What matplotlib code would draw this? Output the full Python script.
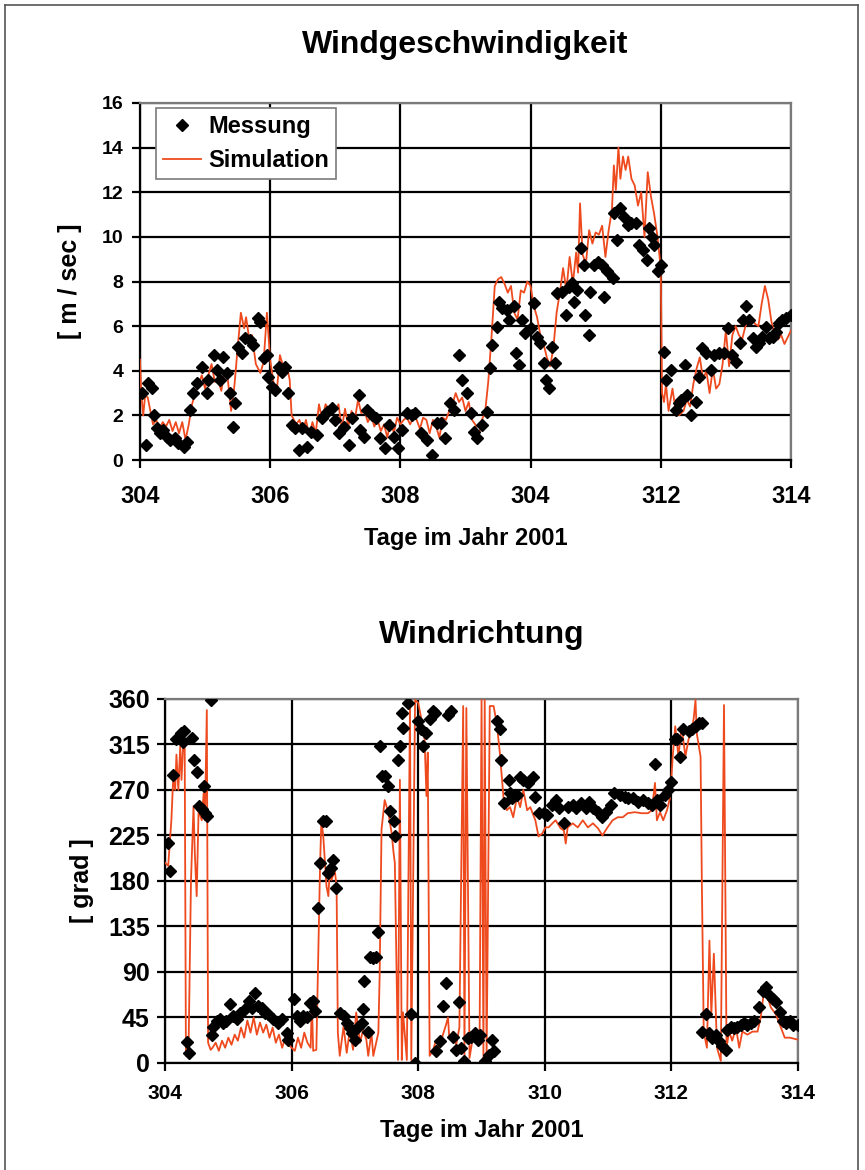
import numpy as np
import matplotlib
matplotlib.use("Agg")
import matplotlib.pyplot as plt
from matplotlib.lines import Line2D

plt.rcParams['font.family'] = ['Liberation Sans', 'DejaVu Sans']
plt.rcParams['font.weight'] = 'bold'
plt.rcParams['axes.labelweight'] = 'bold'
plt.rcParams['axes.titleweight'] = 'bold'

RED = '#ee4a1e'

# --- Windgeschwindigkeit: Messung (day, m/s) ---
ws_mess_day = [304.03, 304.10, 304.13, 304.18, 304.21, 304.26, 304.31, 304.36, 304.41, 304.46,
               304.54, 304.59, 304.67, 304.72, 304.77, 304.82, 304.87, 304.95, 305.03, 305.05,
               305.13, 305.18, 305.23, 305.28, 305.33, 305.38, 305.43, 305.46, 305.51, 305.56,
               305.62, 305.69, 305.74, 305.82, 305.85, 305.90, 305.95, 305.97, 306.03, 306.08,
               306.13, 306.18, 306.23, 306.28, 306.33, 306.38, 306.44, 306.49, 306.56, 306.62,
               306.72, 306.79, 306.87, 306.95, 307.00, 307.05, 307.13, 307.21, 307.26, 307.36,
               307.38, 307.44, 307.49, 307.56, 307.62, 307.69, 307.77, 307.82, 307.90, 307.97,
               308.03, 308.10, 308.18, 308.23, 308.31, 308.41, 308.49, 308.56, 308.62, 308.69,
               308.77, 308.82, 308.90, 308.95, 309.03, 309.08, 309.13, 309.18, 309.26, 309.33,
               309.38, 309.41, 309.49, 309.51, 309.56, 309.64, 309.67, 309.74, 309.77, 309.82,
               309.87, 309.92, 310.00, 310.05, 310.10, 310.15, 310.21, 310.23, 310.28, 310.33,
               310.38, 310.41, 310.49, 310.54, 310.59, 310.64, 310.67, 310.72, 310.77, 310.82,
               310.83, 310.90, 310.92, 310.97, 311.03, 311.10, 311.13, 311.18, 311.26, 311.28,
               311.33, 311.38, 311.44, 311.49, 311.54, 311.62, 311.67, 311.72, 311.79, 311.82,
               311.87, 311.90, 311.95, 312.00, 312.05, 312.08, 312.15, 312.23, 312.28, 312.31,
               312.38, 312.41, 312.46, 312.54, 312.59, 312.64, 312.69, 312.77, 312.82, 312.90,
               312.97, 313.03, 313.10, 313.15, 313.21, 313.26, 313.31, 313.36, 313.41, 313.46,
               313.51, 313.56, 313.62, 313.67, 313.72, 313.77, 313.82, 313.87, 313.92, 314.00]
ws_mess_val = [2.99, 0.67, 3.44, 3.21, 2.02, 1.42, 1.20, 1.35, 1.05, 0.90,
               0.97, 0.75, 0.60, 0.82, 2.24, 2.99, 3.44, 4.19, 2.99, 3.59,
               4.71, 4.04, 3.59, 4.63, 3.89, 2.99, 1.49, 2.54, 5.08, 4.78,
               5.46, 5.38, 5.16, 6.35, 6.20, 4.56, 4.71, 3.74, 3.29, 3.14,
               4.19, 3.96, 4.19, 2.99, 1.57, 1.42, 0.45, 1.42, 0.60, 1.27,
               1.12, 1.87, 2.17, 2.32, 1.79, 1.20, 1.49, 0.67, 1.87, 2.91,
               1.35, 1.05, 2.24, 2.02, 1.87, 0.97, 0.52, 1.57, 1.05, 0.52,
               1.35, 2.09, 2.02, 2.09, 1.20, 0.90, 0.22, 1.64, 1.64, 0.97,
               2.54, 2.24, 4.71, 3.59, 2.99, 2.09, 1.27, 0.97, 1.57, 2.17,
               4.11, 5.16, 5.98, 7.10, 6.80, 6.73, 6.28, 6.88, 4.78, 4.26,
               6.28, 5.68, 5.90, 7.03, 5.53, 5.23, 4.33, 3.59, 3.21, 5.08,
               4.33, 7.47, 7.55, 6.50, 7.77, 7.92, 7.10, 7.62, 9.49, 8.74,
               6.50, 5.61, 7.55, 8.74, 8.89, 8.74, 7.32, 8.45, 8.15, 11.06,
               9.87, 11.29, 10.91, 10.54, 10.61, 10.61, 9.64, 9.42, 8.97, 10.39,
               10.01, 9.64, 8.45, 8.74, 4.86, 3.59, 4.04, 2.24, 2.54, 2.69,
               4.26, 2.91, 2.02, 2.62, 3.74, 5.01, 4.78, 4.04, 4.71, 4.78,
               4.78, 5.90, 4.71, 4.41, 5.23, 6.28, 6.88, 6.28, 5.46, 5.08,
               5.23, 5.53, 5.98, 5.46, 5.53, 5.75, 6.13, 6.28, 6.35, 6.50]

# --- Windgeschwindigkeit: Simulation ---
ws_sim_day = [304.00, 304.02, 304.05, 304.08, 304.12, 304.16, 304.20, 304.25, 304.30, 304.35,
              304.40, 304.45, 304.50, 304.55, 304.60, 304.65, 304.70, 304.75, 304.80, 304.85,
              304.90, 304.95, 305.00, 305.05, 305.10, 305.15, 305.20, 305.25, 305.30, 305.35,
              305.40, 305.45, 305.50, 305.55, 305.60, 305.63, 305.68, 305.72, 305.78, 305.85,
              305.90, 305.95, 306.00, 306.05, 306.10, 306.15, 306.20, 306.25, 306.30, 306.33,
              306.40, 306.45, 306.50, 306.55, 306.60, 306.65, 306.70, 306.75, 306.80, 306.85,
              306.90, 306.95, 307.00, 307.05, 307.10, 307.15, 307.20, 307.25, 307.30, 307.35,
              307.40, 307.45, 307.50, 307.55, 307.60, 307.65, 307.70, 307.75, 307.80, 307.85,
              307.90, 307.95, 308.00, 308.05, 308.10, 308.15, 308.20, 308.25, 308.30, 308.35,
              308.40, 308.45, 308.50, 308.55, 308.60, 308.65, 308.70, 308.75, 308.80, 308.85,
              308.90, 308.95, 309.00, 309.05, 309.10, 309.15, 309.20, 309.25, 309.30, 309.35,
              309.40, 309.45, 309.50, 309.55, 309.60, 309.65, 309.70, 309.75, 309.80, 309.85,
              309.90, 309.95, 310.00, 310.05, 310.10, 310.15, 310.20, 310.25, 310.30, 310.35,
              310.40, 310.45, 310.50, 310.55, 310.60, 310.65, 310.70, 310.73, 310.76, 310.80,
              310.85, 310.90, 310.95, 311.00, 311.05, 311.10, 311.15, 311.20, 311.25, 311.28,
              311.31, 311.35, 311.38, 311.42, 311.46, 311.50, 311.55, 311.60, 311.65, 311.70,
              311.75, 311.80, 311.85, 311.90, 311.95, 312.00, 312.02, 312.05, 312.08, 312.12,
              312.18, 312.22, 312.28, 312.35, 312.40, 312.45, 312.50, 312.55, 312.60, 312.65,
              312.70, 312.75, 312.80, 312.85, 312.90, 312.95, 313.00, 313.05, 313.10, 313.15,
              313.20, 313.25, 313.30, 313.35, 313.40, 313.45, 313.50, 313.55, 313.60, 313.65,
              313.70, 313.75, 313.80, 313.85, 313.90, 313.95, 314.00]
ws_sim_val = [4.5, 3.0, 2.0, 2.9, 2.8, 2.2, 1.6, 1.8, 1.4, 1.7,
              1.5, 1.8, 1.3, 1.7, 1.2, 1.7, 0.9, 1.6, 2.5, 3.0,
              3.4, 3.8, 3.2, 3.8, 4.3, 3.5, 3.6, 3.1, 4.0, 3.6,
              2.2, 3.3, 5.0, 6.6, 5.9, 6.4, 5.4, 5.6, 4.3, 3.9,
              4.4, 6.6, 4.5, 3.5, 3.0, 4.7, 4.2, 4.3, 3.6, 2.0,
              1.6, 1.8, 1.3, 1.8, 1.1, 1.7, 1.2, 2.5, 1.8, 2.5,
              2.3, 2.5, 2.2, 2.5, 1.4, 2.3, 1.5, 2.2, 1.8, 2.7,
              2.1, 2.2, 1.7, 2.0, 1.5, 1.8, 1.3, 1.6, 1.0, 1.8,
              1.2, 1.9, 1.6, 1.8, 1.9, 1.6, 1.9, 1.8, 1.4, 1.9,
              1.8, 1.2, 1.8, 1.5, 1.0, 1.9, 1.8, 2.2, 2.5, 3.0,
              2.6, 2.8, 2.2, 2.6, 1.8, 1.6, 1.0, 1.8, 2.1, 3.5,
              5.5, 7.8, 8.1, 8.2, 7.9, 7.5, 7.8, 6.6, 6.3, 7.6,
              7.5, 8.0, 7.8, 6.9, 6.4, 5.6, 5.2, 4.6, 4.2, 5.0,
              6.6, 7.5, 8.6, 7.6, 9.1, 7.9, 9.3, 8.4, 11.5, 9.2,
              8.8, 10.3, 9.7, 10.2, 10.1, 10.5, 9.1, 10.3, 11.2, 13.2,
              12.1, 14.0, 12.6, 13.6, 13.0, 13.6, 12.6, 12.3, 11.4, 12.0,
              10.0, 12.9, 11.8, 11.0, 10.0, 8.6, 3.0, 2.6, 3.4, 2.2,
              3.2, 2.4, 2.0, 2.2, 2.7, 2.4, 3.4, 4.1, 4.6, 3.6,
              4.0, 3.0, 4.1, 3.2, 3.4, 4.3, 5.8, 4.2, 5.6, 6.0,
              5.6, 5.4, 6.0, 6.2, 6.3, 6.1, 6.0, 7.0, 7.8, 7.2,
              6.2, 5.6, 5.4, 5.6, 5.2, 5.5, 5.8]

# --- Windrichtung: Messung (day, grad) ---
wd_mess_day = [304.04, 304.08, 304.13, 304.18, 304.21, 304.25, 304.28, 304.30, 304.34, 304.38,
               304.42, 304.45, 304.50, 304.54, 304.58, 304.62, 304.63, 304.67, 304.72, 304.74,
               304.76, 304.82, 304.87, 304.92, 304.97, 305.03, 305.08, 305.13, 305.18, 305.26,
               305.32, 305.37, 305.42, 305.47, 305.53, 305.58, 305.63, 305.71, 305.79, 305.84,
               305.92, 305.95, 306.03, 306.08, 306.13, 306.18, 306.24, 306.29, 306.33, 306.37,
               306.42, 306.45, 306.50, 306.55, 306.58, 306.62, 306.66, 306.70, 306.76, 306.82,
               306.87, 306.92, 306.96, 307.00, 307.05, 307.11, 307.12, 307.14, 307.21, 307.24,
               307.29, 307.33, 307.37, 307.39, 307.42, 307.47, 307.53, 307.55, 307.61, 307.63,
               307.68, 307.71, 307.74, 307.76, 307.84, 307.89, 307.95, 308.00, 308.05, 308.08,
               308.13, 308.18, 308.24, 308.26, 308.28, 308.34, 308.39, 308.44, 308.47, 308.52,
               308.55, 308.60, 308.65, 308.68, 308.73, 308.79, 308.84, 308.89, 308.95, 308.97,
               309.05, 309.11, 309.16, 309.19, 309.24, 309.29, 309.30, 309.35, 309.43, 309.45,
               309.48, 309.56, 309.61, 309.66, 309.74, 309.82, 309.85, 309.90, 309.98, 310.04,
               310.12, 310.17, 310.22, 310.30, 310.36, 310.44, 310.49, 310.57, 310.65, 310.70,
               310.76, 310.84, 310.91, 310.97, 311.05, 311.10, 311.18, 311.26, 311.31, 311.39,
               311.47, 311.55, 311.63, 311.69, 311.74, 311.77, 311.82, 311.90, 311.95, 311.99,
               312.06, 312.09, 312.14, 312.19, 312.27, 312.32, 312.38, 312.43, 312.48, 312.48,
               312.54, 312.59, 312.64, 312.70, 312.75, 312.80, 312.86, 312.88, 312.94, 312.99,
               313.04, 313.10, 313.15, 313.20, 313.26, 313.31, 313.39, 313.44, 313.49, 313.55,
               313.60, 313.65, 313.71, 313.76, 313.81, 313.87, 313.92, 314.00]
wd_mess_val = [218, 190, 285, 320, 321, 326, 317, 328, 21, 10,
               321, 300, 288, 254, 251, 274, 247, 244, 359, 28,
               36, 41, 43, 40, 41, 58, 46, 43, 49, 53,
               61, 54, 69, 56, 54, 49, 48, 43, 40, 43,
               30, 23, 63, 46, 41, 46, 45, 59, 61, 51,
               153, 198, 239, 239, 188, 193, 201, 173, 49, 46,
               40, 35, 30, 23, 36, 40, 53, 81, 31, 105,
               104, 105, 130, 313, 284, 284, 274, 249, 239, 224,
               300, 313, 346, 331, 356, 48, 0, 338, 330, 313,
               326, 340, 348, 346, 12, 22, 56, 79, 344, 348,
               26, 13, 60, 15, 2, 25, 26, 30, 23, 28,
               2, 8, 23, 12, 338, 330, 300, 257, 280, 267,
               262, 265, 283, 280, 277, 283, 263, 247, 247, 245,
               255, 260, 252, 237, 253, 255, 252, 257, 252, 258,
               252, 248, 243, 248, 255, 267, 265, 263, 262, 262,
               258, 260, 257, 255, 296, 260, 255, 265, 270, 278,
               320, 320, 303, 330, 328, 330, 333, 336, 336, 31,
               48, 30, 25, 28, 22, 17, 13, 33, 36, 35,
               36, 38, 40, 38, 40, 41, 55, 71, 75, 66,
               63, 60, 50, 41, 40, 41, 38, 38]

# --- Windrichtung: Simulation ---
wd_sim_day = [304.00, 304.05, 304.10, 304.13, 304.16, 304.18, 304.21, 304.24, 304.26, 304.29,
              304.31, 304.33, 304.37, 304.41, 304.45, 304.47, 304.50, 304.53, 304.58, 304.61,
              304.63, 304.66, 304.68, 304.72, 304.75, 304.80, 304.85, 304.90, 304.95, 305.00,
              305.05, 305.10, 305.15, 305.20, 305.25, 305.30, 305.35, 305.40, 305.45, 305.50,
              305.55, 305.60, 305.65, 305.70, 305.75, 305.80, 305.85, 305.90, 305.95, 306.00,
              306.05, 306.10, 306.15, 306.20, 306.25, 306.30, 306.32, 306.34, 306.39, 306.45,
              306.47, 306.50, 306.53, 306.55, 306.58, 306.60, 306.63, 306.68, 306.71, 306.73,
              306.76, 306.82, 306.87, 306.92, 306.97, 307.02, 307.08, 307.13, 307.18, 307.21,
              307.26, 307.29, 307.37, 307.39, 307.42, 307.47, 307.53, 307.58, 307.61, 307.63,
              307.68, 307.71, 307.74, 307.76, 307.82, 307.87, 307.89, 307.95, 308.00, 308.05,
              308.10, 308.13, 308.15, 308.18, 308.23, 308.28, 308.34, 308.39, 308.44, 308.47,
              308.49, 308.55, 308.60, 308.65, 308.71, 308.73, 308.76, 308.81, 308.87, 308.92,
              308.97, 309.00, 309.03, 309.05, 309.08, 309.13, 309.19, 309.24, 309.29, 309.35,
              309.40, 309.45, 309.50, 309.56, 309.61, 309.66, 309.72, 309.77, 309.85, 309.90,
              309.96, 310.01, 310.06, 310.12, 310.17, 310.25, 310.30, 310.33, 310.36, 310.44,
              310.52, 310.60, 310.68, 310.76, 310.84, 310.91, 310.99, 311.07, 311.15, 311.23,
              311.31, 311.42, 311.53, 311.63, 311.69, 311.74, 311.77, 311.82, 311.87, 311.93,
              311.98, 312.02, 312.06, 312.11, 312.16, 312.22, 312.27, 312.32, 312.35, 312.38,
              312.40, 312.46, 312.48, 312.51, 312.56, 312.60, 312.63, 312.67, 312.72, 312.78,
              312.83, 312.87, 312.91, 312.96, 313.02, 313.07, 313.12, 313.20, 313.28, 313.36,
              313.41, 313.47, 313.52, 313.57, 313.65, 313.73, 313.79, 313.87, 314.00]
wd_sim_val = [198, 195, 240, 283, 270, 305, 270, 313, 280, 320,
              320, 7, 7, 181, 254, 208, 165, 250, 240, 267,
              240, 349, 20, 13, 15, 20, 12, 22, 15, 25,
              18, 28, 22, 35, 25, 42, 30, 45, 28, 40,
              30, 38, 25, 35, 20, 28, 15, 25, 18, 15,
              12, 25, 15, 30, 20, 15, 60, 12, 13, 198,
              240, 224, 195, 175, 165, 188, 181, 191, 175, 30,
              7, 36, 10, 33, 13, 50, 20, 33, 23, 7,
              30, 7, 30, 86, 231, 260, 247, 227, 208, 198,
              3, 280, 3, 50, 3, 359, 3, 359, 356, 340,
              320, 264, 307, 7, 12, 22, 15, 28, 38, 45,
              25, 31, 18, 35, 353, 5, 351, 5, 28, 22,
              31, 359, 5, 359, 5, 353, 353, 336, 306, 260,
              250, 253, 243, 263, 253, 270, 250, 253, 240, 224,
              227, 233, 233, 237, 240, 232, 230, 217, 233, 237,
              233, 240, 233, 237, 232, 225, 233, 240, 243, 243,
              247, 248, 247, 247, 250, 277, 240, 248, 240, 250,
              263, 303, 333, 303, 333, 303, 320, 330, 340, 359,
              326, 303, 180, 31, 15, 121, 48, 108, 15, 2,
              354, 15, 31, 22, 35, 15, 31, 28, 31, 31,
              45, 75, 65, 55, 48, 35, 25, 25, 23]

day_ticks = [304, 306, 308, 310, 312, 314]
ws_tick_labels = ['304', '306', '308', '304', '312', '314']   # as printed in the original
wd_tick_labels = ['304', '306', '308', '310', '312', '314']


def style_axes(ax):
    ax.grid(True, color='black', linewidth=1.6)
    ax.set_axisbelow(True)
    for side in ['top', 'right']:
        ax.spines[side].set_color('#7a7a7a')
        ax.spines[side].set_linewidth(1.6)
    for side in ['left', 'bottom']:
        ax.spines[side].set_color('black')
        ax.spines[side].set_linewidth(1.6)
    ax.tick_params(direction='out', length=6, width=1.6, color='black')
    ax.set_xlim(304, 314)


fig = plt.figure(figsize=(8.65, 11.7), dpi=100)

# frame around the figure
for xs, ys in [([0.006, 0.006], [0, 0.996]), ([0.006, 0.992], [0.996, 0.996]), ([0.992, 0.992], [0.996, 0])]:
    fig.add_artist(Line2D(xs, ys, color='#555555', linewidth=1.2, transform=fig.transFigure))

# top: wind speed
ax1 = fig.add_axes([0.1618, 0.6068, 0.7526, 0.3052])
style_axes(ax1)
ax1.plot(ws_sim_day, ws_sim_val, color=RED, linewidth=1.3, label='Simulation', zorder=3)
ax1.plot(ws_mess_day, ws_mess_val, linestyle='none', marker='D', markersize=6.5,
         color='black', label='Messung', zorder=4)
ax1.set_ylim(0, 16)
ax1.set_yticks(range(0, 17, 2))
ax1.set_xticks(day_ticks)
ax1.set_xticklabels(ws_tick_labels)
ax1.tick_params(axis='x', labelsize=17, pad=12)
ax1.tick_params(axis='y', labelsize=14, pad=6)
ax1.set_xlabel('Tage im Jahr 2001', fontsize=17, labelpad=14)
ax1.set_ylabel('[ m / sec ]', fontsize=18, labelpad=14)
ax1.set_title('Windgeschwindigkeit', fontsize=23, pad=36)
handles, labels = ax1.get_legend_handles_labels()
leg = ax1.legend(handles[::-1], labels[::-1], loc='upper left', bbox_to_anchor=(0.025, 0.985),
                 borderaxespad=0, fontsize=17, frameon=True, fancybox=False, edgecolor='#7a7a7a',
                 borderpad=0.3, handlelength=1.6, handletextpad=0.3, labelspacing=0.45)
leg.get_frame().set_linewidth(1.2)
leg.get_frame().set_alpha(1)

# bottom: wind direction
ax2 = fig.add_axes([0.1908, 0.0915, 0.7318, 0.3111])
style_axes(ax2)
ax2.plot(wd_sim_day, wd_sim_val, color=RED, linewidth=1.3, zorder=3)
ax2.plot(wd_mess_day, wd_mess_val, linestyle='none', marker='D', markersize=6.5,
         color='black', zorder=4)
ax2.set_ylim(0, 360)
ax2.set_yticks(range(0, 361, 45))
ax2.set_xticks(day_ticks)
ax2.set_xticklabels(wd_tick_labels)
ax2.tick_params(axis='x', labelsize=15, pad=9)
ax2.tick_params(axis='y', labelsize=18, pad=5)
ax2.set_xlabel('Tage im Jahr 2001', fontsize=17, labelpad=12)
ax2.set_ylabel('[ grad ]', fontsize=18, labelpad=10)
ax2.set_title('Windrichtung', fontsize=23, pad=40)

fig.savefig('out.png', dpi=100)
